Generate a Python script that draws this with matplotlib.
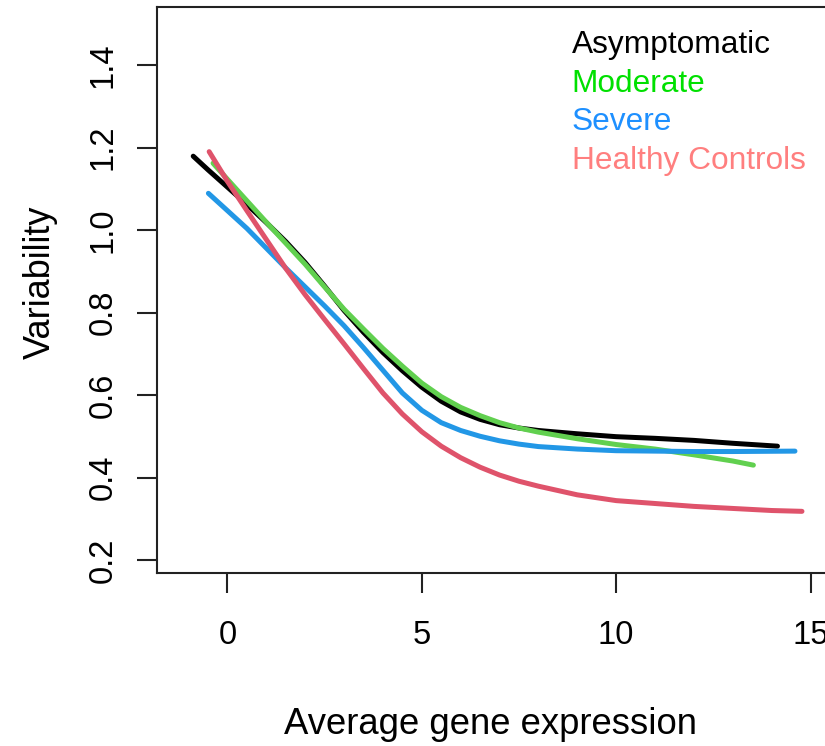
import matplotlib
matplotlib.use('Agg')
import matplotlib.pyplot as plt

# ---- data ----
asym_x = [-0.88, -0.5, 0.0, 0.5, 1.0, 1.5, 2.0, 2.5, 3.0, 3.5, 4.0, 4.5, 5.0, 5.5, 6.0, 6.5, 7.0, 7.5, 8.0, 9.0, 10.0, 11.0, 12.0, 13.0, 14.15]
asym_y = [1.179, 1.146, 1.104, 1.062, 1.018, 0.972, 0.921, 0.864, 0.805, 0.752, 0.703, 0.659, 0.619, 0.585, 0.559, 0.541, 0.528, 0.520, 0.514, 0.506, 0.499, 0.495, 0.490, 0.483, 0.476]

mod_x = [-0.37, 0.0, 0.5, 1.0, 1.5, 2.0, 2.5, 3.0, 3.5, 4.0, 4.5, 5.0, 5.5, 6.0, 6.5, 7.0, 7.5, 8.0, 9.0, 10.0, 11.0, 12.0, 13.0, 13.53]
mod_y = [1.162, 1.123, 1.071, 1.019, 0.968, 0.917, 0.862, 0.808, 0.760, 0.713, 0.670, 0.629, 0.596, 0.570, 0.550, 0.533, 0.520, 0.510, 0.494, 0.480, 0.469, 0.455, 0.440, 0.430]

sev_x = [-0.49, 0.0, 0.5, 1.0, 1.5, 2.0, 2.5, 3.0, 3.5, 4.0, 4.5, 5.0, 5.5, 6.0, 6.5, 7.0, 7.5, 8.0, 9.0, 10.0, 11.0, 12.0, 13.0, 14.6]
sev_y = [1.089, 1.047, 1.004, 0.956, 0.908, 0.862, 0.816, 0.768, 0.715, 0.660, 0.605, 0.563, 0.533, 0.514, 0.500, 0.489, 0.481, 0.475, 0.469, 0.465, 0.464, 0.463, 0.463, 0.464]

hc_x = [-0.47, 0.0, 0.5, 1.0, 1.5, 2.0, 2.5, 3.0, 3.5, 4.0, 4.5, 5.0, 5.5, 6.0, 6.5, 7.0, 7.5, 8.0, 9.0, 10.0, 11.0, 12.0, 13.0, 14.0, 14.78]
hc_y = [1.190, 1.118, 1.047, 0.977, 0.907, 0.843, 0.783, 0.724, 0.664, 0.605, 0.554, 0.511, 0.476, 0.448, 0.425, 0.406, 0.391, 0.379, 0.358, 0.344, 0.337, 0.330, 0.325, 0.320, 0.318]

series_names = ['Asymptomatic', 'Moderate', 'Severe', 'Healthy Controls']
line_colors = ['#000000', '#61D04F', '#2297E6', '#DF536B']
text_colors = ['#000000', '#00E000', '#1E90FF', '#FF7F7F']

x_ticks = [0, 5, 10, 15]
x_tick_labels = ['0', '5', '10', '15']
y_ticks = [0.2, 0.4, 0.6, 0.8, 1.0, 1.2, 1.4]
y_tick_labels = ['0.2', '0.4', '0.6', '0.8', '1.0', '1.2', '1.4']

plt.rcParams['font.family'] = ['Liberation Sans', 'DejaVu Sans']

W, H = 825, 746
fig = plt.figure(figsize=(W / 100, H / 100), dpi=100)
left_px, right_px, top_px, bottom_px = 156.7, 835.0, 7.3, 573.0
ax = fig.add_axes([left_px / W, 1 - bottom_px / H, (right_px - left_px) / W, (bottom_px - top_px) / H])

xs = [asym_x, mod_x, sev_x, hc_x]
ys = [asym_y, mod_y, sev_y, hc_y]
for x, y, c in zip(xs, ys, line_colors):
    ax.plot(x, y, color=c, lw=3.6, solid_capstyle='round', solid_joinstyle='round')

ax.set_xlim(-1.82, 15.63)
ax.set_ylim(0.1685, 1.540)
ax.set_xticks(x_ticks)
ax.set_xticklabels(x_tick_labels, fontsize=23.5)
ax.set_yticks(y_ticks)
ax.set_yticklabels(y_tick_labels, fontsize=23.5, rotation=90, va='center')
ax.tick_params(axis='both', direction='out', length=14.4, width=1.5, color='#222222')
ax.tick_params(axis='x', pad=19.5)
ax.tick_params(axis='y', pad=13)
for s in ax.spines.values():
    s.set_linewidth(1.5)
    s.set_color('#222222')

fig.text(491 / W, 1 - 724 / H, 'Average gene expression', fontsize=26.3, ha='center', va='center')
fig.text(40 / W, 1 - 282 / H, 'Variability', fontsize=26.0, ha='center', va='center', rotation=90)

base_y = [52.7, 91.6, 130.5, 169.4]
for name, col, by in zip(series_names, text_colors, base_y):
    fig.text(571.7 / W, 1 - by / H, name, color=col, fontsize=22.8, ha='left', va='baseline')

fig.savefig('out.png', dpi=100)
